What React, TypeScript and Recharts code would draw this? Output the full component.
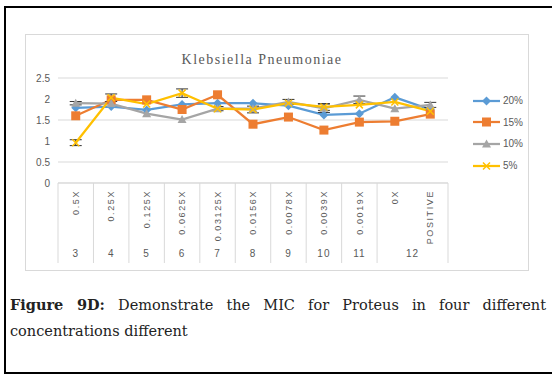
import { LineChart, Line, XAxis, YAxis, CartesianGrid, ErrorBar, Legend } from 'recharts';

const categories = ['0.5X', '0.25X', '0.125X', '0.0625X', '0.03125X', '0.0156X', '0.0078X', '0.0039X', '0.0019X', '0X', 'POSITIVE'];
const groupLabels = ['3', '4', '5', '6', '7', '8', '9', '10', '11', '12'];
const groupSpans = [1, 1, 1, 1, 1, 1, 1, 1, 1, 2];

const conc20 = [1.79, 1.82, 1.74, 1.87, 1.9, 1.9, 1.84, 1.62, 1.65, 2.04, 1.75];
const conc15 = [1.6, 1.98, 1.98, 1.75, 2.1, 1.4, 1.57, 1.26, 1.45, 1.47, 1.64];
const conc10 = [1.9, 1.89, 1.65, 1.51, 1.77, 1.77, 1.93, 1.78, 1.98, 1.77, 1.86];
const conc5 = [0.96, 2.03, 1.88, 2.14, 1.77, 1.75, 1.9, 1.81, 1.86, 1.93, 1.71];

const err10 = [0.04, null, null, null, 0.05, null, 0.06, 0.1, 0.09, null, 0.06];
const err5 = [0.07, 0.09, null, 0.1, null, 0.08, null, 0.08, null, null, null];

const yTicks = [0, 0.5, 1, 1.5, 2, 2.5];

const series = [
  { key: 'c20', name: '20%', color: '#5B9BD5', shape: 'diamond' },
  { key: 'c15', name: '15%', color: '#ED7D31', shape: 'square' },
  { key: 'c10', name: '10%', color: '#A5A5A5', shape: 'triangle' },
  { key: 'c5', name: '5%', color: '#FFC000', shape: 'cross' },
];

const data = categories.map((cat, i) => ({
  cat,
  c20: conc20[i],
  c15: conc15[i],
  c10: conc10[i],
  c5: conc5[i],
  e10: err10[i],
  e5: err5[i],
}));

// group start index -> label/span
const groupAt: Record<number, { label: string; span: number }> = {};
let gi = 0;
groupLabels.forEach((label, k) => {
  groupAt[gi] = { label, span: groupSpans[k] };
  gi += groupSpans[k];
});

const CHART_W = 504;
const CHART_H = 237;
const MARGIN = { top: 44, right: 81, bottom: 3, left: 0 };
const Y_W = 33;
const X_H = 85;
const BAND = (CHART_W - MARGIN.left - MARGIN.right - Y_W) / categories.length;
const AXIS_TOP = CHART_H - MARGIN.bottom - X_H;
const TEXT = '#595959';
const GRID = '#d9d9d9';

function Marker({ shape, color, cx, cy }: { shape: string; color: string; cx: number; cy: number }) {
  if (shape === 'diamond') {
    return <polygon points={`${cx},${cy - 4.5} ${cx + 4.5},${cy} ${cx},${cy + 4.5} ${cx - 4.5},${cy}`} fill={color} />;
  }
  if (shape === 'square') {
    return <rect x={cx - 4.5} y={cy - 4.5} width={9} height={9} fill={color} />;
  }
  if (shape === 'triangle') {
    return <polygon points={`${cx},${cy - 4.5} ${cx + 4.5},${cy + 3.5} ${cx - 4.5},${cy + 3.5}`} fill={color} />;
  }
  return (
    <g stroke={color} strokeWidth={1.5}>
      <line x1={cx - 3.5} y1={cy - 3.5} x2={cx + 3.5} y2={cy + 3.5} />
      <line x1={cx - 3.5} y1={cy + 3.5} x2={cx + 3.5} y2={cy - 3.5} />
    </g>
  );
}

const CategoryTick = (props: any) => {
  const { x, index, payload } = props;
  const grp = groupAt[index];
  const y0 = AXIS_TOP;
  return (
    <g>
      {grp && <line x1={x - BAND / 2} x2={x - BAND / 2} y1={y0} y2={y0 + 80} stroke={GRID} />}
      {index === categories.length - 1 && (
        <line x1={x + BAND / 2} x2={x + BAND / 2} y1={y0} y2={y0 + 80} stroke={GRID} />
      )}
      <text
        x={x}
        y={y0 + 7}
        dy="0.35em"
        transform={`rotate(-90, ${x}, ${y0 + 7})`}
        textAnchor="end"
        fontSize={9}
        letterSpacing={1.6}
        fill={TEXT}
        fontFamily="Liberation Sans, sans-serif"
      >
        {payload.value}
      </text>
      {grp && (
        <text
          x={x + ((grp.span - 1) * BAND) / 2}
          y={y0 + 74}
          textAnchor="middle"
          fontSize={10}
          letterSpacing={1}
          fill={TEXT}
          fontFamily="Liberation Sans, sans-serif"
        >
          {grp.label}
        </text>
      )}
    </g>
  );
};

const LegendContent = () => (
  <div style={{ fontFamily: 'Liberation Sans, sans-serif', fontSize: 10, color: TEXT }}>
    {series.map((s) => (
      <div key={s.key} style={{ display: 'flex', alignItems: 'center', height: 21.6 }}>
        <svg width={30} height={12}>
          <line x1={1} x2={28} y1={6} y2={6} stroke={s.color} strokeWidth={2.25} />
          <Marker shape={s.shape} color={s.color} cx={14.5} cy={6} />
        </svg>
        <span style={{ marginLeft: 1 }}>{s.name}</span>
      </div>
    ))}
  </div>
);

export default function App() {
  return (
    <div style={{ position: 'absolute', left: 0, top: 0, width: 552, height: 379, overflow: 'hidden', background: '#fff' }}>
      <div
        style={{
          position: 'absolute',
          left: 4,
          top: 6,
          width: 560,
          height: 364,
          border: '2px solid #000',
        }}
      />
      <div
        style={{
          position: 'absolute',
          left: 25,
          top: 34,
          width: CHART_W,
          height: CHART_H,
          border: `1px solid ${GRID}`,
          boxSizing: 'border-box',
        }}
      />
      <div
        style={{
          position: 'absolute',
          left: 0,
          top: 52,
          width: 524,
          textAlign: 'center',
          fontFamily: 'Liberation Serif, serif',
          fontSize: 14,
          letterSpacing: 1.5,
          color: TEXT,
        }}
      >
        Klebsiella Pneumoniae
      </div>
      <div style={{ position: 'absolute', left: 25, top: 34 }}>
        <LineChart width={CHART_W} height={CHART_H} data={data} margin={MARGIN}>
          <CartesianGrid vertical={false} stroke={GRID} />
          <XAxis
            dataKey="cat"
            scale="band"
            interval={0}
            height={X_H}
            tickLine={false}
            axisLine={{ stroke: GRID }}
            tick={<CategoryTick />}
          />
          <YAxis
            width={Y_W}
            domain={[0, 2.5]}
            ticks={yTicks}
            axisLine={false}
            tickLine={false}
            tick={{ fill: TEXT, fontSize: 10, fontFamily: 'Liberation Sans, sans-serif' }}
          />
          <Legend
            layout="vertical"
            align="center"
            verticalAlign="middle"
            wrapperStyle={{ left: 447, top: 56, width: 60 }}
            content={<LegendContent />}
          />
          {series.map((s) => (
            <Line
              key={s.key}
              dataKey={s.key}
              name={s.name}
              stroke={s.color}
              strokeWidth={2.25}
              isAnimationActive={false}
              dot={(p: any) => <Marker key={`${s.key}-${p.index}`} shape={s.shape} color={s.color} cx={p.cx} cy={p.cy} />}
              activeDot={false}
            >
              {s.key === 'c10' && <ErrorBar dataKey="e10" width={6} stroke="#333" strokeWidth={1} direction="y" />}
              {s.key === 'c5' && <ErrorBar dataKey="e5" width={6} stroke="#333" strokeWidth={1} direction="y" />}
            </Line>
          ))}
        </LineChart>
      </div>
      <div
        style={{
          position: 'absolute',
          left: 10,
          top: 292,
          width: 536,
          fontFamily: 'DejaVu Serif, serif',
          fontSize: 14.5,
          lineHeight: '26px',
          textAlign: 'justify',
          color: '#222',
        }}
      >
        <b>Figure 9D:</b> Demonstrate the MIC for Proteus in four different concentrations different
      </div>
    </div>
  );
}
